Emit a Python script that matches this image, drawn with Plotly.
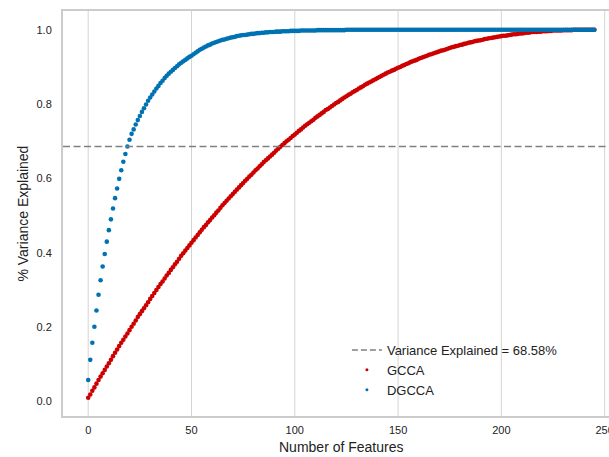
import plotly.graph_objects as go

# ---- data ----
features = list(range(246))

gcca = [
    0.010, 0.019, 0.029, 0.038, 0.048, 0.058, 0.067, 0.076, 0.085, 0.094,
    0.103, 0.112, 0.122, 0.131, 0.140, 0.149, 0.158, 0.166, 0.175, 0.183,
    0.192, 0.201, 0.209, 0.218, 0.227, 0.235, 0.243, 0.251, 0.259, 0.267,
    0.276, 0.284, 0.292, 0.300, 0.308, 0.316, 0.323, 0.331, 0.339, 0.346,
    0.354, 0.361, 0.369, 0.376, 0.384, 0.392, 0.399, 0.406, 0.413, 0.420,
    0.427, 0.434, 0.441, 0.448, 0.455, 0.462, 0.469, 0.475, 0.482, 0.488,
    0.495, 0.501, 0.508, 0.514, 0.521, 0.528, 0.534, 0.540, 0.546, 0.552,
    0.558, 0.564, 0.570, 0.576, 0.582, 0.588, 0.594, 0.599, 0.605, 0.610,
    0.616, 0.622, 0.627, 0.633, 0.638, 0.644, 0.649, 0.654, 0.659, 0.664,
    0.669, 0.675, 0.680, 0.685, 0.690, 0.695, 0.700, 0.704, 0.709, 0.714,
    0.718, 0.723, 0.728, 0.732, 0.737, 0.742, 0.746, 0.750, 0.754, 0.758,
    0.763, 0.767, 0.771, 0.775, 0.779, 0.784, 0.787, 0.791, 0.795, 0.799,
    0.803, 0.806, 0.810, 0.814, 0.818, 0.821, 0.825, 0.828, 0.832, 0.835,
    0.838, 0.842, 0.845, 0.848, 0.852, 0.855, 0.858, 0.861, 0.864, 0.867,
    0.870, 0.873, 0.876, 0.879, 0.882, 0.885, 0.887, 0.890, 0.892, 0.895,
    0.898, 0.900, 0.903, 0.905, 0.908, 0.910, 0.913, 0.915, 0.917, 0.919,
    0.922, 0.924, 0.926, 0.928, 0.930, 0.933, 0.934, 0.936, 0.938, 0.940,
    0.942, 0.944, 0.945, 0.947, 0.949, 0.951, 0.953, 0.954, 0.956, 0.957,
    0.959, 0.960, 0.962, 0.963, 0.965, 0.966, 0.967, 0.969, 0.970, 0.971,
    0.972, 0.973, 0.975, 0.976, 0.977, 0.978, 0.979, 0.980, 0.981, 0.982,
    0.983, 0.984, 0.984, 0.985, 0.986, 0.987, 0.988, 0.988, 0.989, 0.990,
    0.990, 0.991, 0.992, 0.992, 0.993, 0.994, 0.994, 0.994, 0.995, 0.995,
    0.996, 0.996, 0.996, 0.997, 0.997, 0.998, 0.998, 0.998, 0.998, 0.998,
    0.999, 0.999, 0.999, 0.999, 0.999, 1.000, 1.000, 1.000, 1.000, 1.000,
    1.000, 1.000, 1.000, 1.000, 1.000, 1.000,
]

dgcca = [
    0.058, 0.112, 0.158, 0.201, 0.245, 0.287, 0.326, 0.363, 0.397, 0.430,
    0.461, 0.490, 0.519, 0.547, 0.573, 0.599, 0.622, 0.645, 0.666, 0.686,
    0.704, 0.720, 0.732, 0.745, 0.757, 0.768, 0.779, 0.789, 0.799, 0.809,
    0.818, 0.826, 0.834, 0.842, 0.849, 0.857, 0.863, 0.870, 0.876, 0.882,
    0.887, 0.892, 0.897, 0.902, 0.907, 0.911, 0.915, 0.919, 0.923, 0.927,
    0.930, 0.934, 0.938, 0.942, 0.946, 0.949, 0.952, 0.955, 0.958, 0.960,
    0.963, 0.965, 0.967, 0.969, 0.971, 0.973, 0.974, 0.976, 0.977, 0.979,
    0.980, 0.981, 0.983, 0.984, 0.985, 0.986, 0.986, 0.987, 0.988, 0.989,
    0.989, 0.990, 0.991, 0.991, 0.992, 0.992, 0.993, 0.993, 0.994, 0.994,
    0.994, 0.995, 0.995, 0.995, 0.996, 0.996, 0.996, 0.996, 0.997, 0.997,
    0.997, 0.997, 0.997, 0.998, 0.998, 0.998, 0.998, 0.998, 0.998, 0.998,
    0.998, 0.999, 0.999, 0.999, 0.999, 0.999, 0.999, 0.999, 0.999, 0.999,
    0.999, 0.999, 0.999, 0.999, 0.999, 1.000, 1.000, 1.000, 1.000, 1.000,
    1.000, 1.000, 1.000, 1.000, 1.000, 1.000, 1.000, 1.000, 1.000, 1.000,
    1.000, 1.000, 1.000, 1.000, 1.000, 1.000, 1.000, 1.000, 1.000, 1.000,
    1.000, 1.000, 1.000, 1.000, 1.000, 1.000, 1.000, 1.000, 1.000, 1.000,
    1.000, 1.000, 1.000, 1.000, 1.000, 1.000, 1.000, 1.000, 1.000, 1.000,
    1.000, 1.000, 1.000, 1.000, 1.000, 1.000, 1.000, 1.000, 1.000, 1.000,
    1.000, 1.000, 1.000, 1.000, 1.000, 1.000, 1.000, 1.000, 1.000, 1.000,
    1.000, 1.000, 1.000, 1.000, 1.000, 1.000, 1.000, 1.000, 1.000, 1.000,
    1.000, 1.000, 1.000, 1.000, 1.000, 1.000, 1.000, 1.000, 1.000, 1.000,
    1.000, 1.000, 1.000, 1.000, 1.000, 1.000, 1.000, 1.000, 1.000, 1.000,
    1.000, 1.000, 1.000, 1.000, 1.000, 1.000, 1.000, 1.000, 1.000, 1.000,
    1.000, 1.000, 1.000, 1.000, 1.000, 1.000, 1.000, 1.000, 1.000, 1.000,
    1.000, 1.000, 1.000, 1.000, 1.000, 1.000,
]

threshold = 0.6858
threshold_label = "Variance Explained = 68.58%"
x_ticks = [0, 50, 100, 150, 200, 250]
y_ticks = [0.0, 0.2, 0.4, 0.6, 0.8, 1.0]

FONT = "Arial, 'Liberation Sans', sans-serif"
RED = "#cc0000"
BLUE = "#0072b2"
FRAME = "#cccccc"
GRID = "#d4d4d4"

fig = go.Figure()

# legend-only entries (small markers as in the reference legend)
fig.add_trace(go.Scatter(
    x=[None], y=[None], mode="lines", name=threshold_label,
    line=dict(color="#808080", width=1.6, dash="6px,3px"),
))
fig.add_trace(go.Scatter(
    x=[None], y=[None], mode="markers", name="GCCA",
    marker=dict(color=RED, size=3, line=dict(width=0)),
))
fig.add_trace(go.Scatter(
    x=[None], y=[None], mode="markers", name="DGCCA",
    marker=dict(color=BLUE, size=3, line=dict(width=0)),
))

# data series
fig.add_trace(go.Scatter(
    x=features, y=gcca, mode="markers", name="GCCA", showlegend=False,
    marker=dict(color=RED, size=4.6, line=dict(width=0)),
))
fig.add_trace(go.Scatter(
    x=features, y=dgcca, mode="markers", name="DGCCA", showlegend=False,
    marker=dict(color=BLUE, size=4.6, line=dict(width=0)),
))

# vertical grid lines at the x ticks (drawn as shapes so the one at the edge shows)
for t in x_ticks:
    fig.add_shape(
        type="line", xref="x", x0=t, x1=t, yref="paper", y0=0, y1=1,
        line=dict(color=GRID, width=1), layer="below",
    )

fig.add_shape(
    type="line", xref="paper", x0=0, x1=1, yref="y", y0=threshold, y1=threshold,
    line=dict(color="#808080", width=1.6, dash="7px,3.5px"), layer="above",
)

fig.update_layout(
    width=609, height=457,
    margin=dict(l=63, r=0, t=11, b=41, autoexpand=False),
    paper_bgcolor="white", plot_bgcolor="white",
    font=dict(family=FONT, size=11, color="#222222"),
    showlegend=True,
    legend=dict(
        x=0.52, y=0.20, xanchor="left", yanchor="top",
        bgcolor="rgba(0,0,0,0)", font=dict(family=FONT, size=13, color="#222222"),
        itemwidth=30, tracegroupgap=0,
    ),
    xaxis=dict(
        range=[-12.2, 252.1], tickvals=x_ticks, automargin=False,
        ticklabeloverflow="allow",
        showgrid=False,
        zeroline=False, showline=True, linecolor=FRAME, linewidth=2, mirror=True,
        ticks="outside", ticklen=3, tickcolor="rgba(0,0,0,0)",
        tickfont=dict(family=FONT, size=11, color="#222222"),
    ),
    yaxis=dict(
        range=[-0.039, 1.0505], tickvals=y_ticks, tickformat=".1f", automargin=False,
        showgrid=False, zeroline=False,
        showline=True, linecolor=FRAME, linewidth=2, mirror=False,
        ticks="outside", ticklen=7, tickcolor="rgba(0,0,0,0)",
        tickfont=dict(family=FONT, size=11, color="#222222"),
    ),
    annotations=[
        dict(text="Number of Features", xref="paper", yref="paper",
             x=(341 - 63) / 546, y=-0.077, xanchor="center", yanchor="middle",
             showarrow=False, font=dict(family=FONT, size=14, color="#222222")),
        dict(text="% Variance Explained", xref="paper", yref="paper",
             x=-0.075, y=0.5, xanchor="center", yanchor="middle", textangle=-90,
             showarrow=False, font=dict(family=FONT, size=14, color="#222222")),
    ],
)

fig.write_html(
    "out.html",
    config={"displayModeBar": False},
    post_script="document.body.style.margin='0';document.body.style.overflow='hidden';",
)
